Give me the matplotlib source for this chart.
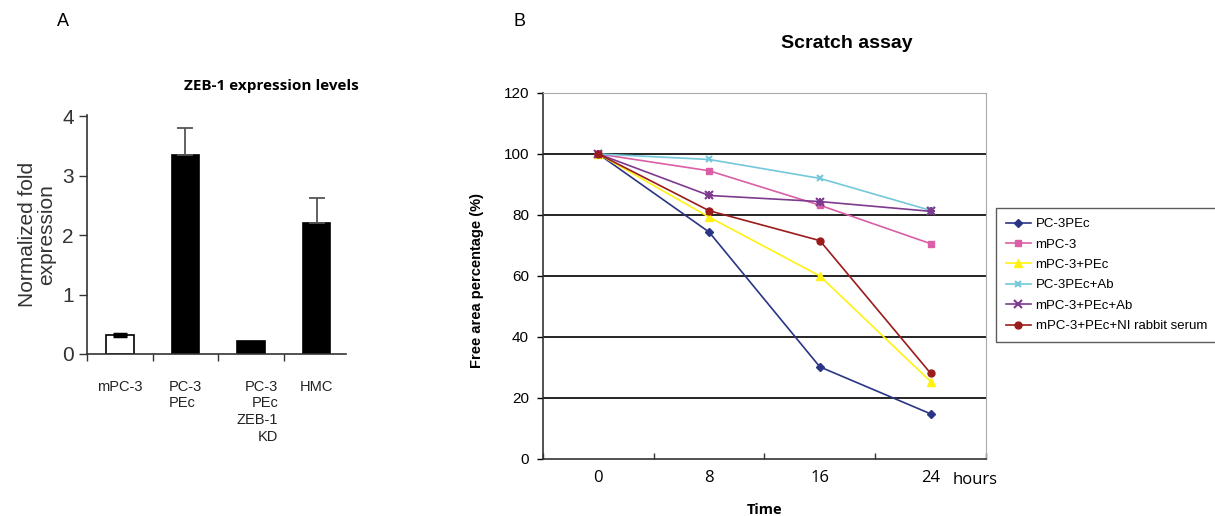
import matplotlib
matplotlib.use("Agg")
import matplotlib.pyplot as plt
import numpy as np

# Panel A data
zeb_categories = ["mPC-3", "PC-3\nPEc", "PC-3\nPEc\nZEB-1\nKD", "HMC"]
zeb_values = [0.32, 3.35, 0.21, 2.20]
zeb_errors = [0.02, 0.45, 0.0, 0.43]
zeb_colors = ["white", "black", "black", "black"]

# Panel B data
time_labels = ["0", "8", "16", "24"]
series_names = ["PC-3PEc", "mPC-3", "mPC-3+PEc", "PC-3PEc+Ab", "mPC-3+PEc+Ab",
                "mPC-3+PEc+NI rabbit serum"]
pc3pec = [100, 74.4, 30.2, 14.8]
mpc3 = [100, 94.5, 83.2, 70.6]
mpc3_pec = [100, 79.3, 60.0, 25.4]
pc3pec_ab = [100, 98.2, 92.0, 81.5]
mpc3_pec_ab = [100, 86.4, 84.4, 81.2]
mpc3_pec_nrs = [100, 81.4, 71.6, 28.1]
series_values = [pc3pec, mpc3, mpc3_pec, pc3pec_ab, mpc3_pec_ab, mpc3_pec_nrs]
series_colors = ["#2B3585", "#DA5FA6", "#FFF212", "#73C8DA", "#7D3A8E", "#9A1C1C"]
series_markers = ["D", "s", "^", "x", "x", "o"]
series_msize = [4, 5, 6, 5, 6, 5]

fig = plt.figure(figsize=(12.15, 5.16), dpi=100)

# ---------- Panel A ----------
axA = fig.add_axes([0.0716, 0.314, 0.2132, 0.463])
xa = np.arange(len(zeb_categories))
axA.bar(xa, zeb_values, width=0.42, color=zeb_colors, edgecolor="black", linewidth=1.2)
for xi, v, e in zip(xa, zeb_values, zeb_errors):
    if e > 0:
        if xi == 0:
            axA.errorbar(xi, v, yerr=e, color="black", capsize=5, elinewidth=1.5, capthick=2.5)
        else:
            axA.errorbar(xi, v, yerr=[[0], [e]], color="#555555", capsize=6, elinewidth=1.3, capthick=1.3)
axA.set_xlim(-0.5, 3.45)
axA.set_ylim(0, 4.02)
axA.set_yticks([0, 1, 2, 3, 4])
axA.set_yticklabels(["0", "1", "2", "3", "4"], fontsize=15, color="#333333", family="Liberation Sans")
axA.set_xticks([-0.5, 0.5, 1.5, 2.5])
axA.set_xticklabels([])
axA.tick_params(axis="x", direction="out", length=5, width=1, color="#333333")
axA.tick_params(axis="y", direction="out", length=6, width=1, color="#333333")
for s in ["top", "right"]:
    axA.spines[s].set_visible(False)
for s in ["left", "bottom"]:
    axA.spines[s].set_color("#333333")
    axA.spines[s].set_linewidth(1.2)
axA.set_ylabel("Normalized fold\nexpression", fontsize=15, color="#333333",
               family="Liberation Sans", linespacing=1.0, labelpad=4)
label_offsets = [0, 0, 0.1, 0]
for xi, lab, off in zip(xa, zeb_categories, label_offsets):
    axA.text(xi + off, -0.43, lab, ha="center", va="top", fontsize=10.5, color="#222222",
             family="Liberation Sans", linespacing=1.25,
             multialignment="right" if off else "left",
             transform=axA.transData)
axA.text(0.71, 1.12, "ZEB-1 expression levels", fontsize=11, fontweight="bold",
         family="Open Sans", ha="center", va="center", transform=axA.transAxes)

# ---------- Panel B ----------
axB = fig.add_axes([0.4469, 0.1105, 0.3646, 0.7093])
xb = np.arange(len(time_labels))
for name, vals, c, m, ms in zip(series_names, series_values, series_colors, series_markers, series_msize):
    mew = 1.5 if m == "x" else 1
    axB.plot(xb, vals, color=c, marker=m, markersize=ms, linewidth=1.2, label=name,
             markeredgewidth=mew)
    if name == "mPC-3+PEc+Ab":
        axB.plot(xb, vals, color=c, marker="+", markersize=ms, linewidth=0, markeredgewidth=1.5)
axB.set_xlim(-0.5, 3.5)
axB.set_ylim(0, 120)
axB.set_yticks(np.arange(0, 121, 20))
axB.set_yticklabels([str(v) for v in range(0, 121, 20)], fontsize=11, family="Liberation Sans")
for yv in range(20, 101, 20):
    axB.axhline(yv, color="black", linewidth=1.2, zorder=0)
axB.set_xticks([-0.5, 0.5, 1.5, 2.5, 3.5])
axB.set_xticklabels([])
axB.set_xticks(xb, minor=True)
axB.set_xticklabels(time_labels, minor=True, fontsize=12, family="Open Sans")
axB.tick_params(axis="x", which="minor", length=0, pad=8)
axB.tick_params(axis="x", which="major", direction="in", length=4, width=1, color="#333333")
axB.tick_params(axis="y", direction="out", length=4, width=1, pad=6)
axB.text(3.2, -7.0, "hours", ha="left", va="center", fontsize=12, family="Open Sans")
axB.spines["top"].set_color("#aaaaaa")
axB.spines["right"].set_color("#aaaaaa")
axB.spines["left"].set_color("#333333")
axB.spines["bottom"].set_color("#333333")
axB.spines["left"].set_linewidth(1.2)
axB.spines["bottom"].set_linewidth(1.2)
axB.set_ylabel("Free area percentage (%)", fontsize=10.5, fontweight="bold",
               family="Liberation Sans")
axB.yaxis.set_label_coords(-0.133, 0.489)
axB.text(0.686, 1.136, "Scratch assay", fontsize=14, fontweight="bold",
         family="Liberation Sans", ha="center", va="center", transform=axB.transAxes)
fig.text(765 / 1215, 1 - 510 / 516, "Time", fontsize=10.5, fontweight="bold",
         family="Open Sans", ha="center", va="center")

leg = axB.legend(loc="upper left", bbox_to_anchor=(996 / 1215, 1 - 208 / 516),
                 bbox_transform=fig.transFigure, borderaxespad=0, frameon=True, fancybox=False,
                 edgecolor="#333333", prop={"family": "Liberation Sans", "size": 9.5},
                 handlelength=1.9, labelspacing=0.62, borderpad=0.75, handletextpad=0.35)
leg.get_frame().set_linewidth(1.0)

fig.text(0.047, 0.958, "A", fontsize=13, family="Liberation Sans", va="center")
fig.text(0.423, 0.958, "B", fontsize=13, family="Liberation Sans", va="center")

fig.savefig("out.png", dpi=100)
